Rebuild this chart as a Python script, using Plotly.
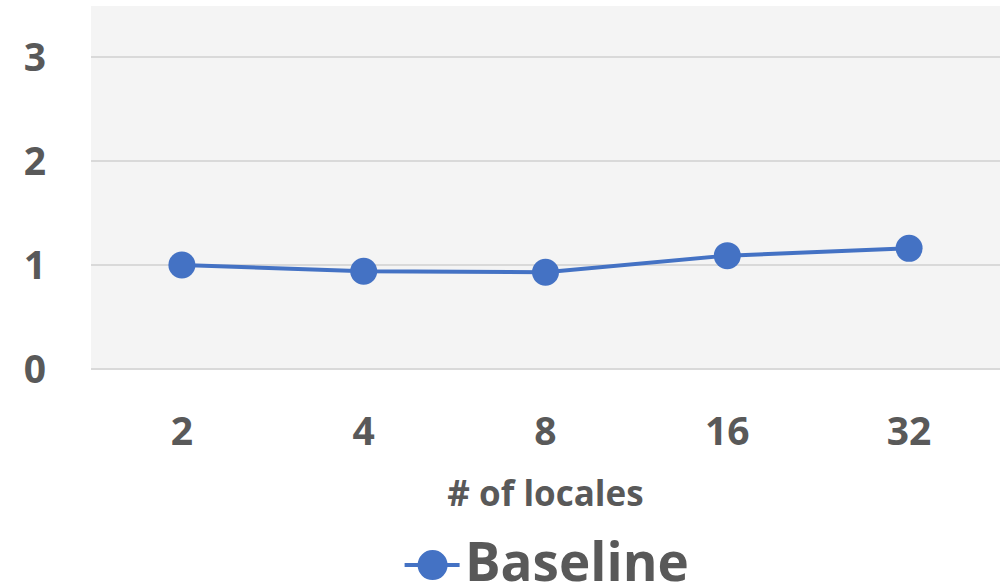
import plotly.graph_objects as go

# Locale counts and baseline values
locales = ["2", "4", "8", "16", "32"]
baseline = [1.00, 0.94, 0.93, 1.09, 1.16]
y_ticks = [0, 1, 2, 3]
series_name = "Baseline"

FONT = "Open Sans"
TEXT = "#595959"
BLUE = "#4472c4"

fig = go.Figure()
fig.add_trace(go.Scatter(
    x=locales, y=baseline, name=series_name,
    mode="lines+markers",
    line=dict(color=BLUE, width=4),
    marker=dict(color=BLUE, size=27),
    showlegend=False,
))

fig.update_layout(
    width=1003, height=587,
    margin=dict(l=91, r=3, t=6, b=218),
    paper_bgcolor="white",
    plot_bgcolor="#f4f4f4",
    font=dict(family=FONT, color=TEXT),
    showlegend=False,
)

# Large legend key below the axis title: line + dot, then the series name
key_y = -0.54
fig.add_shape(type="line", xref="paper", yref="paper",
              x0=0.345, x1=0.4055, y0=key_y, y1=key_y,
              line=dict(color=BLUE, width=4))
fig.add_shape(type="circle", xref="paper", yref="paper",
              xsizemode="pixel", ysizemode="pixel",
              xanchor=0.3758, yanchor=key_y,
              x0=-15, x1=15, y0=-15, y1=15,
              fillcolor=BLUE, line=dict(width=0))
fig.add_annotation(text=series_name, xref="paper", yref="paper",
                   x=0.409, y=-0.527, xanchor="left", yanchor="middle",
                   showarrow=False,
                   font=dict(size=53, family=FONT, color=TEXT, weight="bold"))

fig.update_xaxes(
    type="category", range=[-0.5, 4.5],
    showgrid=False, zeroline=False, showline=False,
    ticks="", ticklabelstandoff=36,
    tickfont=dict(size=39, family=FONT, color=TEXT, weight="bold"),
    title=dict(text="# of locales", standoff=26,
               font=dict(size=35, family=FONT, color=TEXT, weight="bold")),
)
fig.update_yaxes(
    range=[0, 3.49], tickvals=y_ticks,
    showgrid=True, gridcolor="#d9d9d9", gridwidth=2,
    zeroline=True, zerolinecolor="#d9d9d9", zerolinewidth=2,
    showline=False, ticks="", ticklabelstandoff=44,
    tickfont=dict(size=39, family=FONT, color=TEXT, weight="bold"),
)

fig.write_html("out.html")
